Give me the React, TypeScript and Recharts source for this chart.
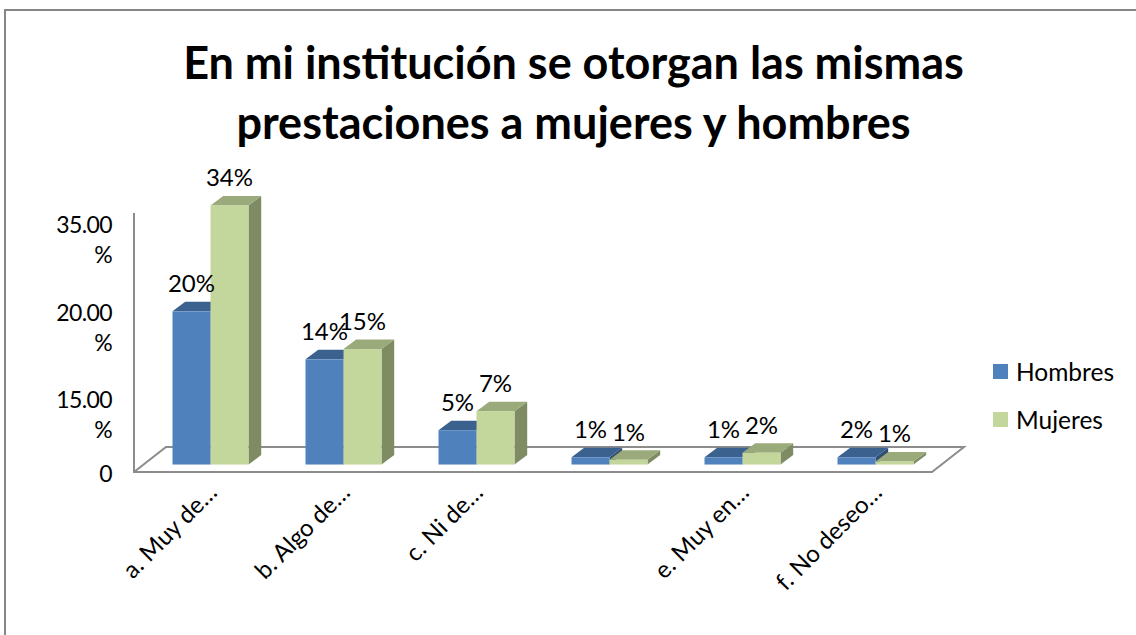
import { BarChart, Bar, XAxis, YAxis, Legend, LabelList, ReferenceArea } from "recharts";

const categories = ["a. Muy de…", "b. Algo de…", "c. Ni de…", "", "e. Muy en…", "f. No deseo…"];
const hombres = [20.1, 13.8, 4.5, 0.95, 0.95, 0.95];
const mujeres = [34, 15.15, 7, 0.63, 1.55, 0.4];
const hombresLabels = ["20%", "14%", "5%", "1%", "1%", "2%"];
const mujeresLabels = ["34%", "15%", "7%", "1%", "2%", "1%"];

// the printed axis labels are not evenly spaced and do not line up with the bars, so they sit where the picture has them
const yTickValues = [-0.98, 6.5, 17.95, 29.5];
const yTickLabels = ["0", "15.00 %", "20.00 %", "35.00 %"];

const data = categories.map((name, i) => ({
    name,
    Hombres: hombres[i],
    Mujeres: mujeres[i],
    hombresLabel: hombresLabels[i],
    mujeresLabel: mujeresLabels[i],
}));

const FONT = "Lato, Carlito, sans-serif";
const DEPTH_X = 12.7;
const DEPTH_Y = 9.5;
const BAR_SHIFT = 9.5;

const blue = { front: "#4F81BD", top: "#3B618F", side: "#2F4E74" };
const green = { front: "#C3D69B", top: "#9BAA7B", side: "#7F8B62" };

const Bar3D = (colors: typeof blue) => (props: any) => {
    const { y, width, height } = props;
    const x = props.x + BAR_SHIFT;
    const r = x + width;
    const b = y + height;
    return (
        <g>
            <polygon
                points={`${r},${y} ${r + DEPTH_X},${y - DEPTH_Y} ${r + DEPTH_X},${b - DEPTH_Y} ${r},${b}`}
                fill={colors.side}
            />
            <polygon
                points={`${x},${y} ${x + DEPTH_X},${y - DEPTH_Y} ${r + DEPTH_X},${y - DEPTH_Y} ${r},${y}`}
                fill={colors.top}
            />
            <rect x={x} y={y} width={width} height={height} fill={colors.front} />
        </g>
    );
};

const Floor = (props: any) => {
    const { x, y, width, height } = props;
    const b = y + height;
    const r = x + width;
    return (
        <g fill="none" stroke="#8C8C8C" strokeWidth={2}>
            <polyline points={`${x},${y} ${x},${b} ${r},${b} ${r + 32},${b - 25} ${x + 32},${b - 25} ${x},${b}`} />
        </g>
    );
};

const BarLabel = (props: any) => {
    const { x, y, width, value } = props;
    return (
        <text
            x={x + width / 2 + BAR_SHIFT}
            y={y - 19}
            textAnchor="middle"
            fontFamily={FONT}
            fontSize={24}
            fill="#000"
        >
            {value}
        </text>
    );
};

const YTick = (props: any) => {
    const { y, payload } = props;
    const label = yTickLabels[yTickValues.indexOf(payload.value)];
    const parts = label.split(" ");
    const common = { x: 112, textAnchor: "end", fontFamily: FONT, fontSize: 23, letterSpacing: -0.6, fill: "#000" };
    if (parts.length === 1) {
        return <text {...common} y={y + 10}>{parts[0]}</text>;
    }
    return (
        <g>
            <text {...common} y={y - 7}>{parts[0]}</text>
            <text {...common} y={y + 23}>{parts[1]}</text>
        </g>
    );
};

const XTick = (props: any) => {
    const { x, payload } = props;
    const px = x + 18;
    const py = 494;
    return (
        <text
            x={px}
            y={py}
            transform={`rotate(-45 ${px} ${py})`}
            textAnchor="end"
            fontFamily={FONT}
            fontSize={24}
            fill="#000"
        >
            {payload.value}
        </text>
    );
};

const LegendBox = (props: any) => (
    <div style={{ fontFamily: FONT, fontSize: 24.5, color: "#000" }}>
        {props.payload.map((item: any) => (
            <div key={item.value} style={{ display: "flex", alignItems: "center", height: 48 }}>
                <span style={{ width: 15, height: 15, background: item.color, marginRight: 8 }} />
                {item.value}
            </div>
        ))}
    </div>
);

export default function App() {
    return (
        <div style={{ position: "absolute", left: 0, top: 0, width: 1136, height: 635, overflow: "hidden", background: "#fff" }}>
            <div
                style={{
                    position: "absolute",
                    left: 4,
                    top: 9,
                    width: 1140,
                    height: 640,
                    borderLeft: "2px solid #868686",
                    borderTop: "2px solid #868686",
                }}
            />
            <div
                style={{
                    position: "absolute",
                    left: 0,
                    top: 32,
                    width: 1147,
                    textAlign: "center",
                    fontFamily: FONT,
                    fontWeight: 700,
                    fontSize: 45,
                    lineHeight: "60px",
                    color: "#000",
                }}
            >
                En mi institución se otorgan las mismas
                <br />
                prestaciones a mujeres y hombres
            </div>
            <BarChart
                width={1136}
                height={635}
                data={data}
                barSize={38}
                barGap={0}
                margin={{ top: 150, right: 74, bottom: 0, left: 0 }}
                style={{ position: "absolute", left: 0, top: 0 }}
            >
                <XAxis dataKey="name" height={163} axisLine={false} tickLine={false} interval={0} tick={<XTick />} />
                <YAxis
                    width={134}
                    domain={[-0.98, 41.27]}
                    ticks={yTickValues}
                    axisLine={false}
                    tickLine={false}
                    interval={0}
                    tick={<YTick />}
                />
                <ReferenceArea y1={-0.98} y2={33} fill="none" stroke="none" shape={<Floor />} />
                <Legend
                    layout="vertical"
                    align="right"
                    verticalAlign="top"
                    width={130}
                    content={<LegendBox />}
                    wrapperStyle={{ left: 993, top: 347 }}
                />
                <Bar dataKey="Hombres" fill={blue.front} isAnimationActive={false} shape={Bar3D(blue)}>
                    <LabelList dataKey="hombresLabel" content={<BarLabel />} />
                </Bar>
                <Bar dataKey="Mujeres" fill={green.front} isAnimationActive={false} shape={Bar3D(green)}>
                    <LabelList dataKey="mujeresLabel" content={<BarLabel />} />
                </Bar>
            </BarChart>
        </div>
    );
}
